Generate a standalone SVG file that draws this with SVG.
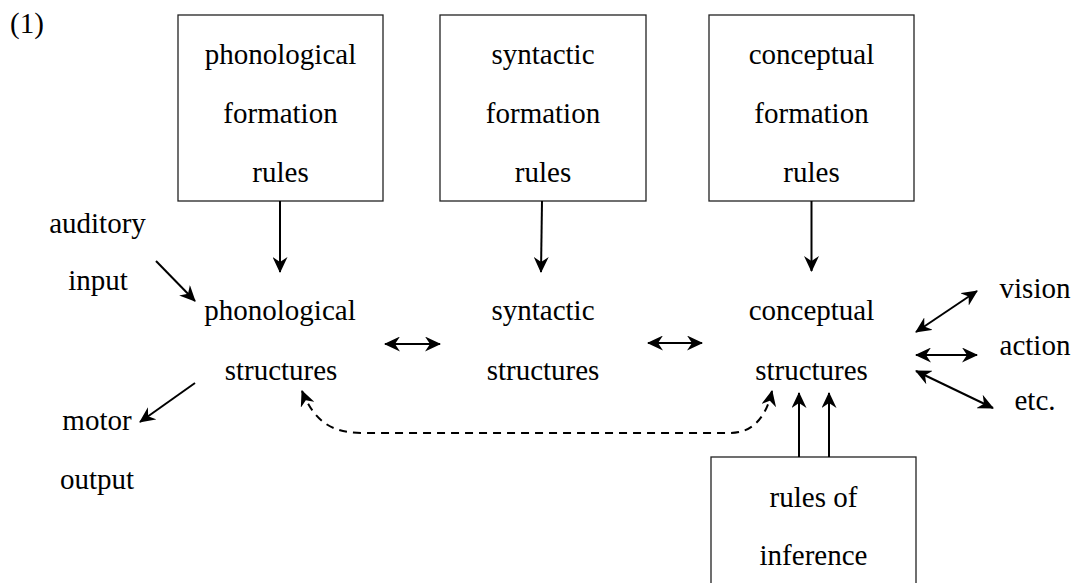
<svg xmlns="http://www.w3.org/2000/svg" width="1075" height="583" viewBox="0 0 1075 583" font-family="'Liberation Serif', 'Times New Roman', serif">
<style>
text{font-family:"Liberation Serif","Times New Roman",serif;font-size:29px;fill:#000;text-anchor:middle}
.box{fill:#fff;stroke:#222;stroke-width:1.3}
.c{fill:none;stroke:#000;stroke-width:2}
.d{stroke-dasharray:8 6}
</style>
<defs>
<marker id="ah" viewBox="0 0 16 15" refX="15" refY="7.5" markerWidth="16" markerHeight="15" markerUnits="userSpaceOnUse" orient="auto-start-reverse">
<path d="M0,0 L16,7.5 L0,15 L5,7.5 Z" fill="#000"/>
</marker>
</defs>
<rect width="1075" height="583" fill="#fff"/>
<text x="10" y="33" style="text-anchor:start">(1)</text>
<g id="phon-rules"><rect class="box" x="178" y="15" width="205" height="186"/><text x="280.5" y="64">phonological</text><text x="280.5" y="123">formation</text><text x="280.5" y="182">rules</text></g>
<g id="syn-rules"><rect class="box" x="440" y="15" width="206" height="186"/><text x="543" y="64">syntactic</text><text x="543" y="123">formation</text><text x="543" y="182">rules</text></g>
<g id="con-rules"><rect class="box" x="709" y="15" width="205" height="186"/><text x="811.5" y="64">conceptual</text><text x="811.5" y="123">formation</text><text x="811.5" y="182">rules</text></g>
<g id="inference"><rect class="box" x="711" y="457" width="205" height="140"/><text x="813.5" y="507">rules of</text><text x="813.5" y="565">inference</text></g>
<g id="auditory"><text x="97.5" y="233">auditory</text><text x="98" y="290">input</text></g>
<g id="motor"><text x="97" y="430">motor</text><text x="97" y="489">output</text></g>
<g id="phon"><text x="280" y="320">phonological</text><text x="281" y="380">structures</text></g>
<g id="syn"><text x="543" y="320">syntactic</text><text x="543" y="380">structures</text></g>
<g id="con"><text x="811.5" y="320">conceptual</text><text x="811.5" y="380">structures</text></g>
<g id="vision"><text x="1035" y="298">vision</text></g>
<g id="action"><text x="1035" y="355">action</text></g>
<g id="etc"><text x="1035" y="410">etc.</text></g>
<g id="connectors">
<line class="c" x1="280" y1="201" x2="280" y2="272" marker-end="url(#ah)"/>
<line class="c" x1="542" y1="201" x2="541" y2="272" marker-end="url(#ah)"/>
<line class="c" x1="811.5" y1="201" x2="811.5" y2="271" marker-end="url(#ah)"/>
<line class="c" x1="156" y1="261" x2="195" y2="301" marker-end="url(#ah)"/>
<line class="c" x1="195" y1="383" x2="140" y2="422" marker-end="url(#ah)"/>
<line class="c" x1="385" y1="344" x2="440" y2="344" marker-start="url(#ah)" marker-end="url(#ah)"/>
<line class="c" x1="648" y1="343" x2="702" y2="343" marker-start="url(#ah)" marker-end="url(#ah)"/>
<line class="c" x1="916" y1="332" x2="977" y2="291" marker-start="url(#ah)" marker-end="url(#ah)"/>
<line class="c" x1="916" y1="355" x2="977" y2="355" marker-start="url(#ah)" marker-end="url(#ah)"/>
<line class="c" x1="916" y1="371" x2="993" y2="408" marker-start="url(#ah)" marker-end="url(#ah)"/>
<line class="c" x1="799" y1="457" x2="799" y2="393" marker-end="url(#ah)"/>
<line class="c" x1="829" y1="457" x2="829" y2="393" marker-end="url(#ah)"/>
<path class="c d" d="M302,391 C314,420 330,433 362,433 L730,433 C752,433 766,418 772,391" marker-start="url(#ah)" marker-end="url(#ah)"/>
</g>
</svg>
